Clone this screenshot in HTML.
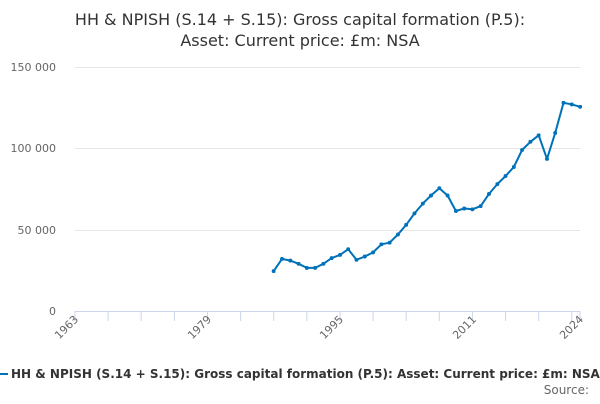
<!DOCTYPE html>
<html><head><meta charset="utf-8"><style>
body{margin:0;background:#fff;font-family:"DejaVu Sans","Liberation Sans",sans-serif}
</style></head><body>
<svg width="600" height="400" xmlns="http://www.w3.org/2000/svg" font-family="DejaVu Sans, Liberation Sans, sans-serif">
<defs><marker id="m" viewBox="0 0 4 4" refX="2" refY="2" markerWidth="4" markerHeight="4" markerUnits="userSpaceOnUse"><circle cx="2" cy="2" r="2" fill="#0072b9"/></marker></defs>
<rect width="600" height="400" fill="#fff"/>
<text x="300" y="25" text-anchor="middle" font-size="16" fill="#333">HH &amp; NPISH (S.14 + S.15): Gross capital formation (P.5):</text>
<text x="300" y="46" text-anchor="middle" font-size="16" fill="#333">Asset: Current price: £m: NSA</text>
<g stroke="#e6e6e6" stroke-width="1">
<line x1="75" y1="67.5" x2="580" y2="67.5"/>
<line x1="75" y1="148.5" x2="580" y2="148.5"/>
<line x1="75" y1="230.5" x2="580" y2="230.5"/>
</g>
<line x1="75" y1="311.5" x2="580" y2="311.5" stroke="#ccd6eb"/>
<g font-size="11" fill="#666" text-anchor="end">
<text x="56" y="71">150 000</text>
<text x="56" y="152">100 000</text>
<text x="56" y="234">50 000</text>
<text x="56" y="315">0</text>
</g>
<g stroke="#ccd6eb">
<line x1="75" y1="311" x2="75" y2="321"/><line x1="108.1" y1="311" x2="108.1" y2="321"/><line x1="141.2" y1="311" x2="141.2" y2="321"/><line x1="174.4" y1="311" x2="174.4" y2="321"/><line x1="207.5" y1="311" x2="207.5" y2="321"/><line x1="240.6" y1="311" x2="240.6" y2="321"/><line x1="273.7" y1="311" x2="273.7" y2="321"/><line x1="306.8" y1="311" x2="306.8" y2="321"/><line x1="340" y1="311" x2="340" y2="321"/><line x1="373.1" y1="311" x2="373.1" y2="321"/><line x1="406.2" y1="311" x2="406.2" y2="321"/><line x1="439.3" y1="311" x2="439.3" y2="321"/><line x1="472.4" y1="311" x2="472.4" y2="321"/><line x1="505.6" y1="311" x2="505.6" y2="321"/><line x1="538.7" y1="311" x2="538.7" y2="321"/><line x1="571.8" y1="311" x2="571.8" y2="321"/><line x1="580" y1="311" x2="580" y2="321"/>
</g>
<g font-size="11" fill="#666" text-anchor="end">
<text transform="translate(79,320) rotate(-45)">1963</text>
<text transform="translate(212,320) rotate(-45)">1979</text>
<text transform="translate(344,320) rotate(-45)">1995</text>
<text transform="translate(477,320) rotate(-45)">2011</text>
<text transform="translate(584,320) rotate(-45)">2024</text>
</g>
<polyline fill="none" stroke="#0072b9" stroke-width="2" stroke-linejoin="round" marker-start="url(#m)" marker-mid="url(#m)" marker-end="url(#m)" points="273.7,271.1 282.0,258.9 290.3,260.6 298.6,263.8 306.8,267.9 315.1,267.9 323.4,263.8 331.7,258.1 340.0,254.9 348.2,249.2 356.5,259.8 364.8,256.5 373.1,252.4 381.4,244.3 389.6,242.7 397.9,234.5 406.2,224.8 414.5,213.4 422.8,203.6 431.0,195.5 439.3,188.2 447.6,195.5 455.9,211.0 464.2,208.5 472.4,209.3 480.7,206.1 489.0,193.9 497.3,184.1 505.6,176.0 513.8,167.0 522.1,150.0 530.4,141.8 538.7,135.3 547.0,158.9 555.2,132.9 563.5,102.8 571.8,104.4 580.1,106.8"/>
<line x1="0" y1="374" x2="8" y2="374" stroke="#0072b9" stroke-width="2"/>
<text x="11" y="378" font-size="12" font-weight="bold" fill="#333">HH &amp; NPISH (S.14 + S.15): Gross capital formation (P.5): Asset: Current price: £m: NSA</text>
<text x="589" y="394" text-anchor="end" font-size="12" fill="#666">Source:</text>
</svg>
</body></html>
